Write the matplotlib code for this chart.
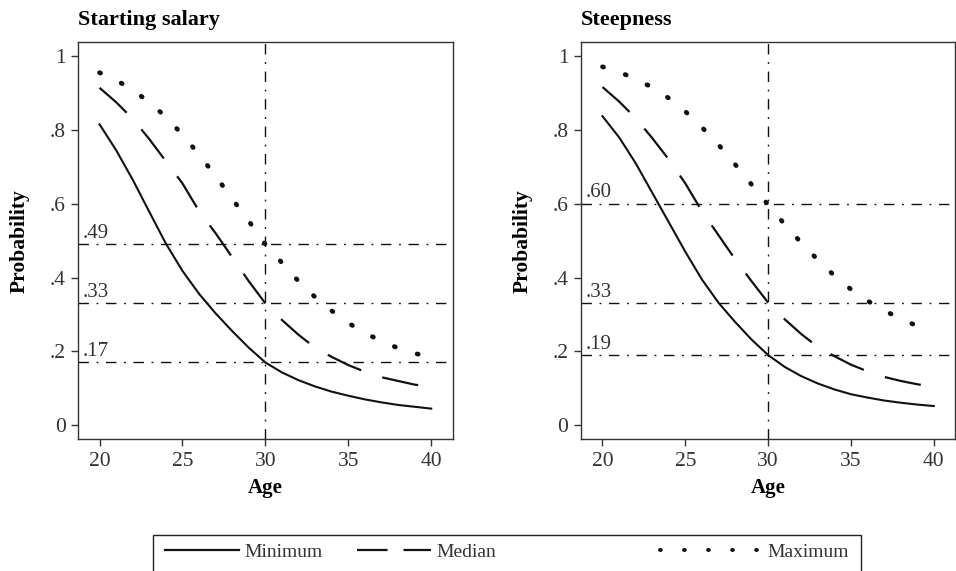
import matplotlib
matplotlib.use('Agg')
import matplotlib.pyplot as plt
from matplotlib.lines import Line2D
from matplotlib.patches import Rectangle

plt.rcParams['font.family'] = ['Liberation Serif', 'DejaVu Serif']
plt.rcParams['lines.scale_dashes'] = False

# data
ages = list(range(20, 41))

salary_min = [0.815, 0.745, 0.665, 0.578, 0.492, 0.418, 0.356, 0.303, 0.255, 0.21, 0.17,
              0.143, 0.122, 0.105, 0.091, 0.080, 0.070, 0.062, 0.055, 0.050, 0.045]
salary_med = [0.914, 0.875, 0.83, 0.775, 0.715, 0.655, 0.58, 0.52, 0.455, 0.39, 0.33,
              0.285, 0.245, 0.21, 0.185, 0.163, 0.145, 0.13, 0.12, 0.11, 0.104]
salary_max = [0.955, 0.935, 0.908, 0.875, 0.835, 0.787, 0.733, 0.675, 0.613, 0.553, 0.49,
              0.44, 0.39, 0.347, 0.31, 0.277, 0.25, 0.228, 0.209, 0.195, 0.183]

steep_min = [0.837, 0.78, 0.71, 0.63, 0.55, 0.47, 0.395, 0.332, 0.28, 0.232, 0.19,
             0.158, 0.133, 0.113, 0.097, 0.084, 0.075, 0.067, 0.061, 0.056, 0.052]
steep_med = [0.916, 0.877, 0.832, 0.778, 0.72, 0.655, 0.58, 0.515, 0.45, 0.39, 0.332,
             0.287, 0.247, 0.212, 0.187, 0.164, 0.146, 0.131, 0.12, 0.111, 0.104]
steep_max = [0.971, 0.957, 0.938, 0.915, 0.886, 0.85, 0.807, 0.76, 0.707, 0.652, 0.597,
             0.544, 0.494, 0.448, 0.405, 0.368, 0.337, 0.311, 0.288, 0.269, 0.253]

salary_refs = [0.49, 0.33, 0.17]
steep_refs = [0.60, 0.33, 0.19]
ref_age = 30

titles = ['Starting salary', 'Steepness']
series_names = ['Minimum', 'Median', 'Maximum']
yticks = [0, 0.2, 0.4, 0.6, 0.8, 1]
yticklabels = ['0', '.2', '.4', '.6', '.8', '1']
xticks = [20, 25, 30, 35, 40]

ink = '#111111'
grey = '#333333'
styles = {
    'Minimum': dict(color=ink, lw=1.5, ls='-'),
    'Median': dict(color=ink, lw=1.6, ls=(0, (26.5, 16)), dash_capstyle='butt'),
    'Maximum': dict(color=ink, lw=3.4, ls=(0, (0.8, 16.5)), dash_capstyle='round'),
}
ref_style = dict(color=ink, lw=1.0, ls=(0, (7.5, 5.5, 1.3, 5.5)))

fig = plt.figure(figsize=(9.56, 5.71), dpi=100)
ax1 = fig.add_axes([0.0816, 0.2307, 0.392, 0.6957])
ax2 = fig.add_axes([0.6077, 0.2307, 0.3916, 0.6957])

panels = [(ax1, [salary_min, salary_med, salary_max], salary_refs),
          (ax2, [steep_min, steep_med, steep_max], steep_refs)]

for (ax, curves, refs), title in zip(panels, titles):
    for name, vals in zip(series_names, curves):
        ax.plot(ages, vals, **styles[name])
    for r in refs:
        ax.axhline(r, **ref_style)
        ax.text(0.012, r + 0.004, ('%.2f' % r)[1:], transform=ax.get_yaxis_transform(),
                fontsize=15, color=grey, va='bottom', ha='left')
    ax.axvline(ref_age, **ref_style)

    ax.set_xlim(18.7, 41.3)
    ax.set_ylim(-0.038, 1.038)
    ax.set_xticks(xticks)
    ax.set_yticks(yticks)
    ax.set_yticklabels(yticklabels)
    ax.tick_params(labelsize=15.5, labelcolor=grey, color=grey,
                   length=5, width=1.0, pad=4)
    for s in ax.spines.values():
        s.set_color(grey)
        s.set_linewidth(1.0)
    ax.set_xlabel('Age', fontsize=15, fontweight='bold', labelpad=5)
    ax.set_ylabel('Probability', fontsize=15.5, fontweight='bold', labelpad=14)
    ax.set_title(title, loc='left', fontsize=16, fontweight='bold', pad=12)

# legend: frame drawn as a box, entries as two frameless legends
ly = 1 - 552 / 571
box = Rectangle((152.7 / 956, -0.03), (861 - 152.7) / 956, 0.0636 + 0.03,
                transform=fig.transFigure, fill=False, edgecolor='#222222', lw=1.0,
                clip_on=False)
fig.add_artist(box)

h_min = Line2D([], [], color=ink, lw=1.6, ls='-')
h_med = Line2D([], [], color=ink, lw=1.6, ls=(0, (22, 11.5)), dash_capstyle='butt')
h_max = Line2D([], [], color=ink, lw=2.8, ls=(0, (0.6, 16.7)), dash_capstyle='round')

leg1 = fig.legend([h_min, h_med], series_names[:2], loc='center left',
                  bbox_to_anchor=(165 / 956, ly), ncol=2, fontsize=14, frameon=False,
                  handlelength=3.8, handletextpad=0.3, columnspacing=1.75,
                  borderpad=0, borderaxespad=0)
leg2 = fig.legend([h_max], series_names[2:], loc='center right',
                  bbox_to_anchor=(849 / 956, ly), fontsize=14, frameon=False,
                  handlelength=5.1, handletextpad=0.45, borderpad=0, borderaxespad=0)
for leg in (leg1, leg2):
    for t in leg.get_texts():
        t.set_color(grey)

fig.savefig('out.png', dpi=100)
